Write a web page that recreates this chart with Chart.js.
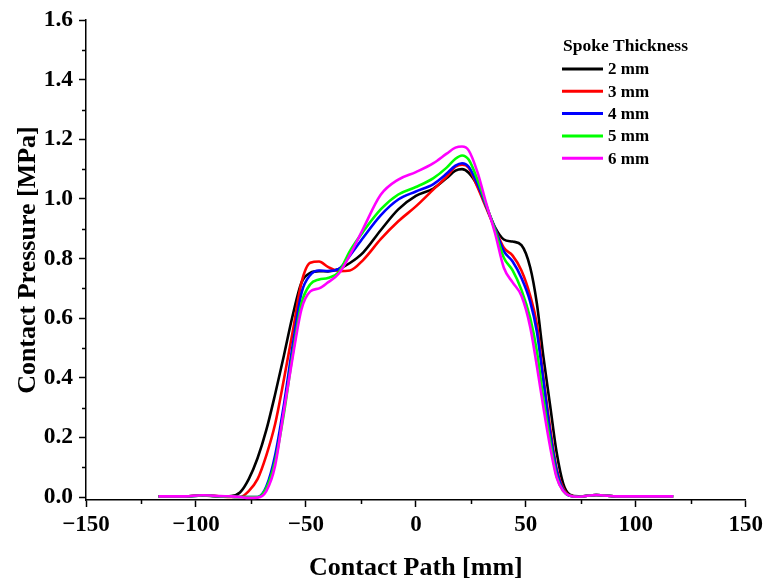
<!DOCTYPE html>
<html>
<head>
<meta charset="utf-8">
<script src="https://cdn.jsdelivr.net/npm/chart.js@4.4.1/dist/chart.umd.min.js"></script>
<style>
  html, body { margin: 0; padding: 0; background: #fff; }
  #wrap { width: 767px; height: 581px; }
</style>
</head>
<body>
<div id="wrap"><canvas id="myChart" width="767" height="581"></canvas></div>
<script>
// contact path positions [mm]
var pathMm = [-117, -105, -97, -89, -84, -80, -76, -72, -68, -64, -60, -56, -52, -48, -44, -40, -35, -30, -24, -16, -8, 0,
	8, 14, 18, 21, 24, 28, 32, 36, 40, 44, 48, 52, 55, 58, 61, 64, 67, 70, 74, 82, 92, 117];

// contact pressure [MPa] per spoke thickness
var p2mm = [0.002, 0.002, 0.005, 0.002, 0.003, 0.015, 0.06, 0.13, 0.225, 0.345, 0.475, 0.61, 0.72, 0.752, 0.758, 0.757, 0.765, 0.785, 0.82, 0.895, 0.965, 1.01,
	1.035, 1.07, 1.095, 1.10, 1.088, 1.045, 0.975, 0.905, 0.864, 0.857, 0.845, 0.77, 0.65, 0.47, 0.31, 0.15, 0.045, 0.008, 0.002, 0.007, 0.002, 0.002];
var p3mm = [0.002, 0.002, 0.006, 0.002, 0.0, 0.0, 0.02, 0.06, 0.14, 0.245, 0.395, 0.555, 0.72, 0.786, 0.79, 0.772, 0.758, 0.76, 0.795, 0.865, 0.925, 0.975,
	1.032, 1.075, 1.108, 1.115, 1.105, 1.04, 0.97, 0.90, 0.836, 0.81, 0.76, 0.675, 0.58, 0.40, 0.235, 0.095, 0.03, 0.005, 0.001, 0.007, 0.002, 0.002];
var p4mm = [0.002, 0.002, 0.005, 0.002, 0.001, 0.0, 0.0, 0.0, 0.035, 0.14, 0.31, 0.51, 0.685, 0.745, 0.76, 0.758, 0.765, 0.81, 0.87, 0.945, 0.998, 1.025,
	1.05, 1.085, 1.112, 1.12, 1.108, 1.05, 0.975, 0.90, 0.825, 0.79, 0.735, 0.655, 0.555, 0.39, 0.22, 0.09, 0.025, 0.004, 0.001, 0.007, 0.002, 0.002];
var p5mm = [0.002, 0.002, 0.005, 0.002, 0.001, 0.0, 0.0, 0.0, 0.03, 0.12, 0.28, 0.48, 0.65, 0.714, 0.73, 0.735, 0.755, 0.825, 0.89, 0.965, 1.015, 1.04,
	1.07, 1.105, 1.135, 1.146, 1.132, 1.065, 0.98, 0.895, 0.803, 0.76, 0.695, 0.60, 0.49, 0.33, 0.19, 0.07, 0.02, 0.004, 0.001, 0.007, 0.002, 0.002];
var p6mm = [0.002, 0.002, 0.006, 0.003, 0.002, 0.0, -0.003, -0.002, 0.02, 0.105, 0.29, 0.47, 0.63, 0.69, 0.70, 0.72, 0.75, 0.812, 0.90, 1.014, 1.065, 1.09,
	1.12, 1.152, 1.172, 1.176, 1.163, 1.09, 0.985, 0.885, 0.769, 0.72, 0.675, 0.57, 0.44, 0.30, 0.17, 0.065, 0.02, 0.004, 0.001, 0.007, 0.002, 0.002];

var seriesNames = ['2 mm', '3 mm', '4 mm', '5 mm', '6 mm'];
var seriesColors = ['#000000', '#ff0000', '#0000ff', '#00ff00', '#ff00ff'];
var seriesValues = [p2mm, p3mm, p4mm, p5mm, p6mm];

var xTicks = [-150, -100, -50, 0, 50, 100, 150];
var yTicks = [0, 0.2, 0.4, 0.6, 0.8, 1.0, 1.2, 1.4, 1.6];
var xMinorTicks = [-125, -75, -25, 25, 75, 125];
var yMinorTicks = [0.1, 0.3, 0.5, 0.7, 0.9, 1.1, 1.3, 1.5];

var serif = '"Liberation Serif", "Times New Roman", serif';

var datasets = seriesNames.map(function (name, i) {
	return {
		label: name,
		data: pathMm.map(function (x, j) { return { x: x, y: seriesValues[i][j] }; }),
		borderColor: seriesColors[i],
		backgroundColor: seriesColors[i],
		borderWidth: 2.6,
		pointRadius: 0,
		cubicInterpolationMode: 'monotone',
		fill: false,
		order: seriesNames.length - i
	};
});

// minor ticks + legend drawn on top
var extrasPlugin = {
	id: 'extras',
	afterDraw: function (chart) {
		var ctx = chart.ctx;
		var xs = chart.scales.x, ys = chart.scales.y;
		var area = chart.chartArea;
		ctx.save();
		ctx.strokeStyle = '#000';
		ctx.lineWidth = 1.5;
		ctx.beginPath();
		xMinorTicks.forEach(function (v) {
			var px = Math.round(xs.getPixelForValue(v)) + 0.5;
			ctx.moveTo(px, area.bottom);
			ctx.lineTo(px, area.bottom + 4);
		});
		yMinorTicks.forEach(function (v) {
			var py = Math.round(ys.getPixelForValue(v)) + 0.5;
			ctx.moveTo(area.left, py);
			ctx.lineTo(area.left - 4, py);
		});
		ctx.stroke();

		// legend
		ctx.fillStyle = '#000';
		ctx.textBaseline = 'middle';
		ctx.textAlign = 'left';
		ctx.font = 'bold 17.5px ' + serif;
		ctx.fillText('Spoke Thickness', 563, 46);
		ctx.font = 'bold 17px ' + serif;
		chart.data.datasets.forEach(function (ds, i) {
			var y = 69 + i * 22.3;
			ctx.strokeStyle = ds.borderColor;
			ctx.lineWidth = 3;
			ctx.beginPath();
			ctx.moveTo(562, y);
			ctx.lineTo(603, y);
			ctx.stroke();
			ctx.fillText(ds.label, 608, y + 1);
		});
		ctx.restore();
	}
};

var ctx = document.getElementById('myChart');
var myChart = new Chart(ctx, {
	type: 'line',
	data: { datasets: datasets },
	options: {
		responsive: false,
		animation: false,
		layout: { padding: { left: 0, right: 19, top: 17, bottom: 0 } },
		plugins: { legend: { display: false }, tooltip: { enabled: false } },
		scales: {
			x: {
				type: 'linear',
				min: -150,
				max: 150,
				afterBuildTicks: function (scale) {
					scale.ticks = xTicks.map(function (v) { return { value: v }; });
				},
				afterFit: function (scale) { scale.height = 81; },
				border: { display: true, color: '#000', width: 1.5 },
				grid: { display: true, drawOnChartArea: false, drawTicks: true, tickLength: 7, tickColor: '#000', tickWidth: 1.5 },
				ticks: {
					color: '#000',
					padding: 4,
					maxRotation: 0,
					font: { family: serif, size: 23, weight: 'bold' },
					callback: function (v) { return v < 0 ? '\u2212' + Math.abs(v) : String(v); }
				},
				title: {
					display: true,
					text: 'Contact Path [mm]',
					color: '#000',
					padding: { top: 14, bottom: 0 },
					font: { family: serif, size: 26, weight: 'bold', lineHeight: 1.0 }
				}
			},
			y: {
				type: 'linear',
				min: -0.01,
				max: 1.6,
				afterBuildTicks: function (scale) {
					scale.ticks = yTicks.map(function (v) { return { value: v }; });
				},
				afterFit: function (scale) { scale.width = 86; },
				border: { display: true, color: '#000', width: 1.5 },
				grid: { display: true, drawOnChartArea: false, drawTicks: true, tickLength: 7, tickColor: '#000', tickWidth: 1.5 },
				ticks: {
					color: '#000',
					padding: 6,
					font: { family: serif, size: 23.5, weight: 'bold' },
					callback: function (v) { return v.toFixed(1); }
				},
				title: {
					display: true,
					text: 'Contact Pressure [MPa]',
					color: '#000',
					padding: { top: 13, bottom: 4 },
					font: { family: serif, size: 26, weight: 'bold' }
				}
			}
		}
	},
	plugins: [extrasPlugin]
});
</script>
</body>
</html>
